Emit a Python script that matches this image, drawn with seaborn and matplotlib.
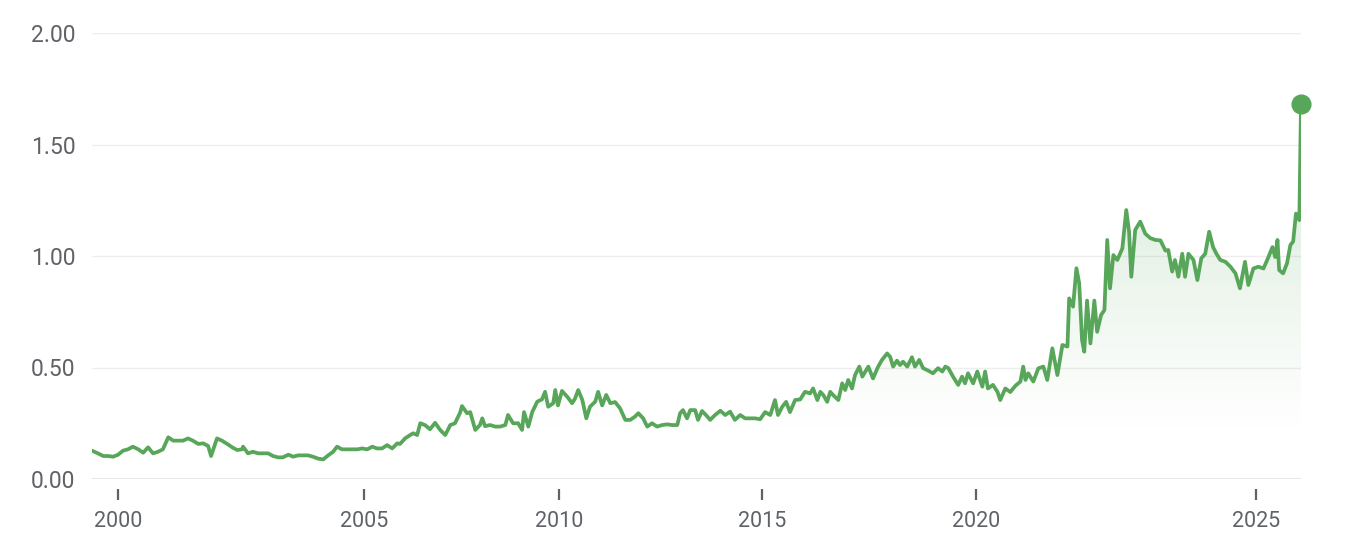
import numpy as np
import pandas as pd
import seaborn as sns
import matplotlib
matplotlib.use("Agg")
import matplotlib.pyplot as plt

# Values (decimal year, price)
dates = [
    1999.47, 1999.59, 1999.70, 1999.80, 1999.90, 2000.00, 2000.10, 2000.20, 2000.30, 2000.41,
    2000.51, 2000.61, 2000.71, 2000.81, 2000.91, 2001.02, 2001.12, 2001.22, 2001.32, 2001.42,
    2001.52, 2001.63, 2001.73, 2001.83, 2001.89, 2002.01, 2002.11, 2002.22, 2002.32, 2002.42,
    2002.52, 2002.54, 2002.64, 2002.74, 2002.85, 2002.95, 2003.05, 2003.15, 2003.25, 2003.35,
    2003.46, 2003.56, 2003.66, 2003.76, 2003.86, 2003.96, 2004.07, 2004.17, 2004.27, 2004.37,
    2004.45, 2004.55, 2004.65, 2004.76, 2004.86, 2004.96, 2005.08, 2005.21, 2005.33, 2005.46,
    2005.59, 2005.72, 2005.85, 2005.92, 2006.05, 2006.18, 2006.26, 2006.36, 2006.44, 2006.56,
    2006.69, 2006.82, 2006.95, 2007.08, 2007.21, 2007.33, 2007.46, 2007.51, 2007.64, 2007.72,
    2007.85, 2007.97, 2008.03, 2008.10, 2008.23, 2008.36, 2008.49, 2008.62, 2008.69, 2008.82,
    2008.95, 2009.05, 2009.10, 2009.21, 2009.31, 2009.44, 2009.56, 2009.64, 2009.72, 2009.85,
    2009.90, 2009.97, 2010.07, 2010.20, 2010.32, 2010.39, 2010.47, 2010.57, 2010.67, 2010.76,
    2010.89, 2010.96, 2011.06, 2011.16, 2011.26, 2011.38, 2011.50, 2011.63, 2011.75, 2011.87,
    2011.95, 2012.07, 2012.17, 2012.29, 2012.41, 2012.54, 2012.66, 2012.78, 2012.91, 2012.98,
    2013.05, 2013.15, 2013.23, 2013.35, 2013.42, 2013.52, 2013.65, 2013.72, 2013.84, 2013.97,
    2014.09, 2014.21, 2014.33, 2014.46, 2014.58, 2014.70, 2014.83, 2014.95, 2015.07, 2015.19,
    2015.30, 2015.37, 2015.47, 2015.56, 2015.65, 2015.77, 2015.89, 2016.00, 2016.12, 2016.19,
    2016.29, 2016.36, 2016.43, 2016.52, 2016.59, 2016.66, 2016.78, 2016.87, 2016.94, 2017.01,
    2017.10, 2017.17, 2017.27, 2017.34, 2017.48, 2017.59, 2017.71, 2017.80, 2017.92, 2017.99,
    2018.06, 2018.15, 2018.22, 2018.29, 2018.39, 2018.50, 2018.57, 2018.67, 2018.76, 2018.88,
    2018.99, 2019.11, 2019.21, 2019.28, 2019.35, 2019.46, 2019.58, 2019.67, 2019.74, 2019.81,
    2019.93, 2020.02, 2020.11, 2020.16, 2020.21, 2020.30, 2020.38, 2020.43, 2020.52, 2020.61,
    2020.70, 2020.79, 2020.84, 2020.88, 2020.93, 2021.02, 2021.11, 2021.20, 2021.27, 2021.36,
    2021.45, 2021.54, 2021.63, 2021.66, 2021.73, 2021.79, 2021.84, 2021.89, 2021.93, 2021.98,
    2022.04, 2022.11, 2022.16, 2022.23, 2022.29, 2022.34, 2022.39, 2022.45, 2022.52, 2022.61,
    2022.68, 2022.73, 2022.77, 2022.84, 2022.93, 2023.02, 2023.11, 2023.20, 2023.29, 2023.38,
    2023.43, 2023.50, 2023.55, 2023.61, 2023.68, 2023.73, 2023.79, 2023.88, 2023.95, 2024.02,
    2024.09, 2024.16, 2024.23, 2024.29, 2024.36, 2024.45, 2024.54, 2024.63, 2024.71, 2024.80,
    2024.86, 2024.95, 2025.04, 2025.13, 2025.21, 2025.29, 2025.34, 2025.38, 2025.41, 2025.48,
    2025.55, 2025.61, 2025.66, 2025.71, 2025.77, 2025.80,
]
prices = [
    0.127, 0.115, 0.103, 0.103, 0.100, 0.109, 0.127, 0.133, 0.145, 0.133,
    0.118, 0.142, 0.115, 0.122, 0.133, 0.187, 0.172, 0.172, 0.172, 0.182,
    0.172, 0.157, 0.160, 0.148, 0.103, 0.182, 0.172, 0.157, 0.142, 0.130,
    0.133, 0.145, 0.115, 0.122, 0.115, 0.115, 0.115, 0.103, 0.097, 0.097,
    0.109, 0.100, 0.106, 0.106, 0.106, 0.100, 0.091, 0.088, 0.106, 0.122,
    0.145, 0.133, 0.133, 0.133, 0.133, 0.137, 0.133, 0.145, 0.137, 0.137,
    0.152, 0.137, 0.160, 0.157, 0.182, 0.197, 0.205, 0.197, 0.250, 0.242,
    0.223, 0.252, 0.220, 0.197, 0.242, 0.250, 0.297, 0.327, 0.295, 0.300,
    0.220, 0.242, 0.272, 0.237, 0.242, 0.235, 0.235, 0.242, 0.287, 0.250,
    0.250, 0.220, 0.300, 0.235, 0.300, 0.347, 0.357, 0.391, 0.324, 0.340,
    0.399, 0.330, 0.395, 0.369, 0.340, 0.360, 0.399, 0.355, 0.272, 0.324,
    0.347, 0.391, 0.330, 0.377, 0.340, 0.345, 0.317, 0.265, 0.265, 0.280,
    0.295, 0.272, 0.235, 0.250, 0.235, 0.242, 0.245, 0.242, 0.242, 0.295,
    0.309, 0.272, 0.309, 0.309, 0.265, 0.305, 0.280, 0.265, 0.287, 0.306,
    0.287, 0.302, 0.265, 0.287, 0.272, 0.272, 0.272, 0.268, 0.300, 0.287,
    0.354, 0.287, 0.324, 0.346, 0.300, 0.354, 0.357, 0.391, 0.384, 0.406,
    0.354, 0.391, 0.376, 0.346, 0.391, 0.376, 0.354, 0.429, 0.399, 0.444,
    0.406, 0.466, 0.504, 0.459, 0.504, 0.451, 0.504, 0.534, 0.563, 0.548,
    0.504, 0.531, 0.511, 0.526, 0.504, 0.546, 0.504, 0.534, 0.497, 0.486,
    0.474, 0.497, 0.482, 0.504, 0.497, 0.459, 0.422, 0.459, 0.429, 0.474,
    0.429, 0.482, 0.414, 0.482, 0.406, 0.422, 0.391, 0.354, 0.406, 0.390,
    0.418, 0.437, 0.504, 0.444, 0.474, 0.437, 0.496, 0.504, 0.444, 0.586,
    0.466, 0.601, 0.594, 0.810, 0.773, 0.945, 0.877, 0.623, 0.571, 0.800,
    0.608, 0.800, 0.660, 0.735, 0.758, 1.072, 0.855, 1.004, 0.982, 1.034,
    1.206, 1.109, 0.907, 1.117, 1.154, 1.100, 1.080, 1.072, 1.070, 1.024,
    1.027, 0.930, 0.982, 0.907, 1.010, 0.907, 1.010, 0.982, 0.892, 0.990,
    1.010, 1.109, 1.040, 1.010, 0.982, 0.974, 0.952, 0.922, 0.855, 0.974,
    0.870, 0.944, 0.952, 0.944, 0.990, 1.040, 0.995, 1.072, 0.937, 0.922,
    0.967, 1.049, 1.065, 1.190, 1.161, 1.680,
]
tick_years = [2000, 2005, 2010, 2015, 2020, 2025]
tick_labels = ["2000", "2005", "2010", "2015", "2020", "2025"]
y_ticks = [0.0, 0.5, 1.0, 1.5, 2.0]

# the date axis is not linear in time: each 5-year block gets its own width
scale_years = [1999, 2000, 2005, 2010, 2015, 2020, 2025, 2026]
scale_slots = [68.8, 118, 364, 559, 762, 976, 1256, 1312]

def fwd(x):
    return np.interp(x, scale_years, scale_slots)

def inv(x):
    return np.interp(x, scale_slots, scale_years)

df = pd.DataFrame({"date": dates, "price": prices})

green = "#57a65a"
text_color = "#5f6368"

sns.set_theme(style="white")
plt.rcParams["font.family"] = ["Roboto", "DejaVu Sans"]

fig = plt.figure(figsize=(13.54, 5.54), dpi=100)
ax = fig.add_axes([92 / 1354, 1 - 479 / 554, (1301 - 92) / 1354, (479 - 33) / 554])
ax.set_xscale("function", functions=(fwd, inv))

# soft green gradient under the line
poly = ax.fill_between(df["date"], df["price"], 0, color="none", lw=0)
grad = np.linspace(0, 1, 256).reshape(-1, 1)
rgba = np.zeros((256, 1, 4))
rgba[..., :3] = matplotlib.colors.to_rgb(green)
level = grad * 2.0
rgba[..., 3] = np.clip((level - 0.2) / 1.0, 0, 1) ** 1.1 * 0.17
img = ax.imshow(rgba, extent=[0, 1, 0, 1], origin="lower", transform=ax.transAxes,
                aspect="auto", zorder=1)
img.set_clip_path(poly.get_paths()[0], transform=ax.transData)

sns.lineplot(data=df, x="date", y="price", color=green, linewidth=2.7, ax=ax, zorder=3)
ax.plot(dates[-1:], prices[-1:], "o", color=green, markersize=13.5, clip_on=False, zorder=4)

ax.set_xlim(dates[0], dates[-1])
ax.set_ylim(0, 2.0)
ax.set_yticks(y_ticks)
ax.set_yticklabels([f"{v:.2f}" for v in y_ticks])
ax.set_xticks(tick_years)
ax.set_xticklabels(tick_labels)
ax.xaxis.set_minor_locator(matplotlib.ticker.NullLocator())

for v in y_ticks:
    ax.axhline(v, color="#e3e5e8" if v == 0 else "#eeeeee", lw=1.3 if v == 0 else 1.0, zorder=0)

for s in ["top", "right", "left"]:
    ax.spines[s].set_visible(False)
ax.spines["bottom"].set_position(("outward", 7))
ax.spines["bottom"].set_visible(False)

ax.tick_params(axis="x", bottom=True, length=8, width=1.6, color=text_color,
               labelsize=15.5, labelcolor=text_color, pad=8)
ax.tick_params(axis="y", left=False, length=0, labelsize=16.5, labelcolor=text_color, pad=12)
ax.set_xlabel("")
ax.set_ylabel("")
ax.grid(False)

fig.savefig("out.png", dpi=100)
